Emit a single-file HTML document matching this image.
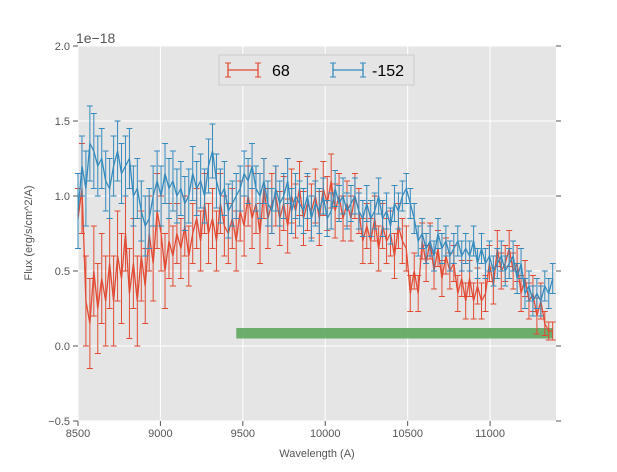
<!DOCTYPE html>
<html><head><meta charset="utf-8"><style>
body{margin:0;background:#fff;}
svg text{font-family:"Liberation Sans",sans-serif;}
</style></head><body>
<svg id="chart" width="617" height="467" xmlns="http://www.w3.org/2000/svg">
<rect x="78" y="46" width="478" height="375" fill="#e5e5e5"/>
<g id="grid"></g>
<g id="band"></g>
<g id="series"></g>
<g id="axes"></g>
<text x="76" y="43" font-size="14" fill="#555">1e−18</text>
<text x="317" y="457" font-size="11" fill="#555" text-anchor="middle">Wavelength (A)</text>
<text transform="translate(32,233) rotate(-90)" font-size="11" fill="#555" text-anchor="middle">Flux (erg/s/cm^2/A)</text>
<g>
<rect x="219" y="55" width="195" height="30" fill="#e5e5e5" stroke="#ccc"/>
<g>
<line x1="228" y1="70" x2="258" y2="70" stroke="#e24a33" stroke-width="1.3"/>
<line x1="228" y1="63" x2="228" y2="77" stroke="#e24a33" stroke-width="1.3"/>
<line x1="258" y1="63" x2="258" y2="77" stroke="#e24a33" stroke-width="1.3"/>
<line x1="225" y1="63" x2="231" y2="63" stroke="#e24a33"/><line x1="225" y1="77" x2="231" y2="77" stroke="#e24a33"/>
<line x1="255" y1="63" x2="261" y2="63" stroke="#e24a33"/><line x1="255" y1="77" x2="261" y2="77" stroke="#e24a33"/>
<text x="272" y="76" font-size="16" fill="#000">68</text></g>
<g>
<line x1="333" y1="70" x2="363" y2="70" stroke="#348abd" stroke-width="1.3"/>
<line x1="333" y1="63" x2="333" y2="77" stroke="#348abd" stroke-width="1.3"/>
<line x1="363" y1="63" x2="363" y2="77" stroke="#348abd" stroke-width="1.3"/>
<line x1="330" y1="63" x2="336" y2="63" stroke="#348abd"/><line x1="330" y1="77" x2="336" y2="77" stroke="#348abd"/>
<line x1="360" y1="63" x2="366" y2="63" stroke="#348abd"/><line x1="360" y1="77" x2="366" y2="77" stroke="#348abd"/>
<text x="372" y="76" font-size="16" fill="#000">-152</text></g>
</g>
</svg>
<script>
const waveStart = 8500;
const waveStep = 24;
const xTicks = [8500, 9000, 9500, 10000, 10500, 11000];
const yTicks = [-0.5, 0.0, 0.5, 1.0, 1.5, 2.0];
const yTickLabels = ["−0.5", "0.0", "0.5", "1.0", "1.5", "2.0"];
const bandRange = [9460, 11380];
const bandY = [0.05, 0.12];
const flux68 = [0.85,1.05,0.3,0.15,0.5,0.25,0.45,0.3,0.55,0.3,0.6,0.45,0.75,0.35,0.55,0.3,0.6,0.4,0.75,0.55,0.9,0.75,0.5,0.7,0.6,0.75,0.65,0.8,0.6,0.75,0.85,0.7,0.95,0.75,0.85,0.7,0.95,0.8,0.75,0.85,0.7,0.9,0.8,1.0,0.85,0.95,0.75,1.05,0.85,0.95,1.0,0.85,0.95,0.8,1.0,0.9,1.05,0.85,0.95,0.9,1.0,0.85,1.05,0.95,1.1,0.9,1.0,0.85,0.95,0.85,1.0,0.9,0.7,0.8,0.7,0.85,0.65,0.8,0.7,0.75,0.6,0.8,0.7,0.65,0.35,0.5,0.35,0.7,0.55,0.7,0.5,0.65,0.45,0.6,0.5,0.55,0.35,0.45,0.3,0.45,0.3,0.4,0.3,0.35,0.55,0.4,0.65,0.5,0.55,0.65,0.5,0.55,0.35,0.45,0.3,0.35,0.2,0.3,0.15,0.1,0.1];
const err68 = [0.2,0.3,0.3,0.3,0.3,0.3,0.3,0.3,0.3,0.3,0.3,0.3,0.25,0.3,0.3,0.3,0.3,0.25,0.25,0.25,0.25,0.25,0.25,0.25,0.2,0.2,0.2,0.2,0.2,0.2,0.2,0.2,0.2,0.2,0.2,0.2,0.2,0.2,0.2,0.2,0.2,0.2,0.2,0.2,0.2,0.2,0.2,0.2,0.2,0.2,0.2,0.18,0.18,0.18,0.18,0.18,0.18,0.18,0.18,0.18,0.18,0.18,0.18,0.18,0.18,0.18,0.15,0.15,0.15,0.15,0.15,0.15,0.15,0.15,0.15,0.15,0.15,0.15,0.15,0.15,0.15,0.15,0.15,0.15,0.12,0.12,0.12,0.12,0.12,0.12,0.12,0.12,0.12,0.12,0.12,0.12,0.12,0.12,0.12,0.12,0.12,0.12,0.12,0.12,0.12,0.12,0.12,0.12,0.12,0.12,0.12,0.12,0.12,0.12,0.12,0.12,0.12,0.12,0.08,0.06,0.06];
const flux152 = [0.9,1.2,1.05,1.35,1.3,1.2,1.25,1.1,1.05,1.2,1.3,1.15,1.2,1.25,1.0,1.05,0.9,0.8,0.85,1.0,1.1,1.0,1.15,1.05,1.1,1.0,1.05,0.95,1.0,1.15,1.05,1.1,1.0,1.2,1.3,1.1,1.0,1.05,0.9,0.95,1.0,1.05,1.15,1.1,1.2,1.05,1.0,1.1,0.95,0.9,1.05,0.95,1.0,1.1,0.9,1.0,0.95,0.9,1.0,0.85,0.95,0.9,1.0,0.85,0.9,1.05,0.95,1.0,0.9,0.95,1.0,0.9,0.85,0.95,0.85,0.9,1.0,0.85,0.9,0.8,0.95,0.9,1.0,1.05,0.95,0.85,0.7,0.75,0.65,0.7,0.6,0.75,0.65,0.7,0.6,0.65,0.7,0.6,0.65,0.6,0.7,0.55,0.65,0.55,0.6,0.5,0.55,0.6,0.5,0.55,0.6,0.45,0.55,0.35,0.4,0.3,0.35,0.3,0.4,0.35,0.45];
const err152 = [0.25,0.2,0.25,0.25,0.25,0.2,0.2,0.2,0.2,0.2,0.2,0.2,0.2,0.2,0.2,0.2,0.2,0.2,0.2,0.2,0.2,0.2,0.2,0.2,0.2,0.18,0.18,0.18,0.18,0.18,0.18,0.18,0.18,0.18,0.18,0.18,0.18,0.18,0.18,0.15,0.15,0.15,0.15,0.15,0.15,0.15,0.15,0.15,0.15,0.15,0.15,0.15,0.15,0.15,0.15,0.15,0.15,0.15,0.15,0.15,0.15,0.15,0.12,0.12,0.12,0.12,0.12,0.12,0.12,0.12,0.12,0.12,0.12,0.12,0.12,0.12,0.12,0.12,0.12,0.12,0.12,0.12,0.1,0.1,0.1,0.1,0.1,0.1,0.1,0.1,0.1,0.1,0.1,0.1,0.1,0.1,0.1,0.1,0.1,0.1,0.1,0.1,0.1,0.1,0.1,0.1,0.1,0.1,0.1,0.1,0.1,0.1,0.1,0.1,0.1,0.1,0.1,0.1,0.1,0.1,0.1];

const NS = "http://www.w3.org/2000/svg";
const L = 78, R = 556, T = 46, B = 421;
const xMin = 8500, xMax = 11400, yMin = -0.5, yMax = 2.0;
function xs(v){ return L + (v - xMin) / (xMax - xMin) * (R - L); }
function ys(v){ return B - (v - yMin) / (yMax - yMin) * (B - T); }
function mk(tag, attrs, parent){
  const e = document.createElementNS(NS, tag);
  for (const k in attrs) e.setAttribute(k, attrs[k]);
  parent.appendChild(e); return e;
}
const grid = document.getElementById('grid');
const axes = document.getElementById('axes');
xTicks.forEach(t => {
  const g = mk('line', {x1: xs(t), x2: xs(t), y1: T, y2: B, stroke: '#fff', 'stroke-width': 1}, grid);
  
  
  mk('line', {x1: xs(t), x2: xs(t), y1: B, y2: B + 5, stroke: '#555'}, axes);
  const lb = mk('text', {x: xs(t), y: B + 16, 'font-size': 11, fill: '#555', 'text-anchor': 'middle'}, axes);
  lb.textContent = String(t);
  
  
});
yTicks.forEach((t, i) => {
  const g = mk('line', {x1: L, x2: R, y1: ys(t), y2: ys(t), stroke: '#fff', 'stroke-width': 1}, grid);
  
  
  mk('line', {x1: L - 5, x2: L, y1: ys(t), y2: ys(t), stroke: '#555'}, axes);
  mk('line', {x1: R, x2: R + 5, y1: ys(t), y2: ys(t), stroke: '#555'}, axes);
  const lb = mk('text', {x: L - 8, y: ys(t) + 4, 'font-size': 11, fill: '#555', 'text-anchor': 'end'}, axes);
  lb.textContent = yTickLabels[i];
  
  
});
const band = mk('rect', {x: xs(bandRange[0]), y: ys(bandY[1]), width: xs(bandRange[1]) - xs(bandRange[0]), height: ys(bandY[0]) - ys(bandY[1]), fill: '#5ea65e', opacity: 0.9}, document.getElementById('band'));



function drawSeries(vals, errs, color, name){
  const g = mk('g', {}, document.getElementById('series'));
  
  
  let pts = [];
  vals.forEach((v, i) => {
    const w = waveStart + waveStep * i;
    const x = xs(w), e = errs[i] || 0.1;
    const y1 = ys(v + e), y2 = ys(v - e);
    mk('line', {x1: x, x2: x, y1: y1, y2: y2, stroke: color, 'stroke-width': 1}, g);
    mk('line', {x1: x - 3, x2: x + 3, y1: y1, y2: y1, stroke: color, 'stroke-width': 1}, g);
    mk('line', {x1: x - 3, x2: x + 3, y1: y2, y2: y2, stroke: color, 'stroke-width': 1}, g);
    pts.push(x.toFixed(1) + ',' + ys(v).toFixed(1));
  });
  mk('polyline', {points: pts.join(' '), fill: 'none', stroke: color, 'stroke-width': 1.3}, g);
}
drawSeries(flux68, err68, '#e24a33', 'series-68');
drawSeries(flux152, err152, '#348abd', 'series-neg152');
</script>
</body></html>
